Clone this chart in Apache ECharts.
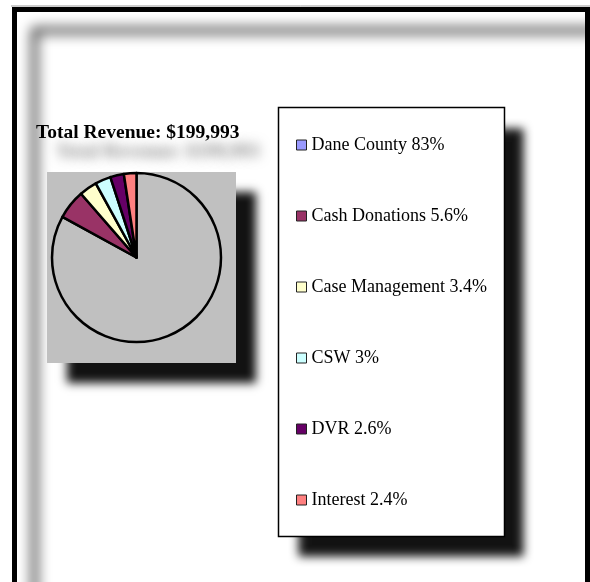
<!DOCTYPE html>
<html>
<head>
<meta charset="utf-8">
<script src="https://cdn.jsdelivr.net/npm/echarts@6/dist/echarts.min.js"></script>
<style>
  html, body { margin: 0; padding: 0; background: #fff; }
  #chart { width: 590px; height: 582px; }
</style>
</head>
<body>
<div id="chart"></div>
<script>
const categories = ['Dane County', 'Cash Donations', 'Case Management', 'CSW', 'DVR', 'Interest']
const shares = [83, 5.6, 3.4, 3, 2.6, 2.4]
const sliceColors = ['#C0C0C0', '#993366', '#FFFFCC', '#CCFFFF', '#660066', '#FF8080']
const legendColors = ['#9999FF', '#993366', '#FFFFCC', '#CCFFFF', '#660066', '#FF8080']
const titleText = 'Total Revenue: $199,993'

const chart = echarts.init(document.getElementById('chart'), null, { renderer: 'canvas' })

const serif = '"Liberation Serif", "Times New Roman", serif'

const option = {
  backgroundColor: '#fff',
  animation: false,
  title: {
    text: titleText,
    left: 36,
    top: 123,
    padding: 0,
    textStyle: {
      fontFamily: serif,
      fontWeight: 'bold',
      fontSize: 19.5,
      color: '#000',
      textShadowColor: 'rgba(0,0,0,0.5)',
      textShadowBlur: 12,
      textShadowOffsetX: 20,
      textShadowOffsetY: 19
    }
  },
  legend: {
    orient: 'vertical',
    left: 296,
    top: 135,
    padding: 0,
    itemGap: 51,
    itemWidth: 10,
    itemHeight: 10,
    icon: 'rect',
    itemStyle: { borderColor: '#222', borderWidth: 1 },
    textStyle: { fontFamily: serif, fontSize: 18, color: '#000', lineHeight: 20 },
    data: categories.map((name, i) => ({
      name: name,
      itemStyle: { color: legendColors[i] }
    })),
    formatter: (name) => {
      const i = categories.indexOf(name)
      return name + ' ' + shares[i] + '%'
    }
  },
  graphic: [
    // thin grey edge at very top
    {
      type: 'line', z: 0,
      shape: { x1: 11, y1: 6, x2: 590, y2: 6 },
      style: { stroke: '#999', lineWidth: 1 }
    },
    // outer frame with its blurred shadow
    {
      type: 'rect', z: 0,
      shape: { x: 14.5, y: 9.5, width: 573, height: 620 },
      style: {
        fill: 'none', stroke: '#000', lineWidth: 5,
        shadowColor: 'rgba(0,0,0,1)', shadowBlur: 13,
        shadowOffsetX: 20, shadowOffsetY: 21
      }
    },
    // pie plot area
    {
      type: 'rect', z: 1,
      shape: { x: 47, y: 172, width: 189, height: 191 },
      style: {
        fill: '#C0C0C0',
        shadowColor: 'rgba(0,0,0,0.93)', shadowBlur: 9,
        shadowOffsetX: 20, shadowOffsetY: 20
      }
    },
    // legend box: shadowed fill, then plain border
    {
      type: 'rect', z: 1,
      shape: { x: 278.5, y: 107.5, width: 226, height: 429 },
      style: {
        fill: '#fff',
        shadowColor: 'rgba(0,0,0,0.93)', shadowBlur: 9,
        shadowOffsetX: 19, shadowOffsetY: 20
      }
    },
    {
      type: 'rect', z: 2,
      shape: { x: 278.5, y: 107.5, width: 226, height: 429 },
      style: { fill: 'none', stroke: '#000', lineWidth: 1.5 }
    }
  ],
  series: [
    {
      name: 'Revenue',
      type: 'pie',
      center: [136.5, 257.5],
      radius: 84.5,
      startAngle: 90,
      clockwise: true,
      silent: true,
      label: { show: false },
      labelLine: { show: false },
      itemStyle: { borderColor: '#000', borderWidth: 2.5 },
      data: categories.map((name, i) => ({
        name: name,
        value: shares[i],
        itemStyle: { color: sliceColors[i] }
      }))
    }
  ]
}

chart.setOption(option)
</script>
</body>
</html>
